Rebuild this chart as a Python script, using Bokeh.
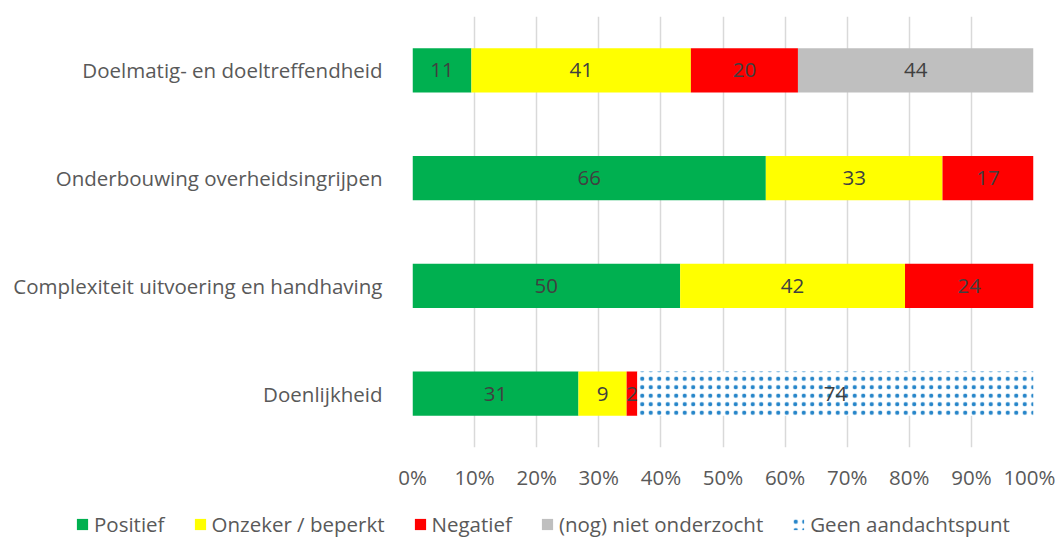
from bokeh.plotting import figure
from bokeh.models import ColumnDataSource, Legend, LegendItem, LabelSet, FixedTicker, FactorRange
from bokeh.layouts import column
from bokeh.core.properties import value
from bokeh.embed import file_html
from bokeh.resources import INLINE

# data
categories = ["Doelmatig- en doeltreffendheid",
              "Onderbouwing overheidsingrijpen",
              "Complexiteit uitvoering en handhaving",
              "Doenlijkheid"]
series_names = ["Positief", "Onzeker / beperkt", "Negatief",
                "(nog) niet onderzocht", "Geen aandachtspunt"]
positief = [11, 66, 50, 31]
onzeker = [41, 33, 42, 9]
negatief = [20, 17, 24, 2]
niet_onderzocht = [44, 0, 0, 0]
geen_aandacht = [0, 0, 0, 74]
x_ticks = [0, 10, 20, 30, 40, 50, 60, 70, 80, 90, 100]

colors = ["#00B050", "#FFFF00", "#FF0000", "#BFBFBF", "white"]
FONT = "Open Sans"
FS = "20.5px"
HATCH = dict(hatch_pattern=".", hatch_color="#0070C0", hatch_scale=8.5,
             hatch_weight=0.5, hatch_alpha=0.85)

series = [positief, onzeker, negatief, niet_onderzocht, geen_aandacht]
totals = [sum(v) for v in zip(*series)]

p = figure(width=1055, height=493, output_backend="svg", toolbar_location=None,
           y_range=FactorRange(*reversed(categories), range_padding=0),
           x_range=(0, 100))
p.frame_align = False
p.min_border_left = 412
p.min_border_right = 22
p.min_border_top = 16
p.min_border_bottom = 44
p.outline_line_color = None

p.xgrid.ticker = FixedTicker(ticks=x_ticks)
p.xgrid.grid_line_color = "#D9D9D9"
p.xgrid.grid_line_width = 1.5
p.ygrid.grid_line_color = None

p.xaxis.ticker = FixedTicker(ticks=x_ticks)
p.xaxis.major_label_overrides = {t: f"{t}%" for t in x_ticks}
p.xaxis.axis_line_color = None
p.xaxis.major_tick_line_color = None
p.xaxis.minor_tick_line_color = None
p.xaxis.major_label_standoff = 9
p.yaxis.axis_line_color = None
p.yaxis.major_tick_line_color = None
p.yaxis.major_label_standoff = 24
for ax in (p.xaxis[0], p.yaxis[0]):
    ax.major_label_text_font = FONT
    ax.major_label_text_font_size = FS
    ax.major_label_text_color = "#595959"

# legende in een eigen strook onder de grafiek
lg = figure(width=1055, height=47, output_backend="svg", toolbar_location=None,
            x_range=(0, 1), y_range=(0, 1))
lg.frame_align = False
lg.min_border_left = lg.min_border_right = 0
lg.min_border_top = lg.min_border_bottom = 0
lg.axis.visible = False
lg.grid.visible = False
lg.outline_line_color = None

left = [0.0] * len(categories)
items = []
for name, vals, col in zip(series_names, series, colors):
    pct = [v / t * 100 for v, t in zip(vals, totals)]
    right = [l + q for l, q in zip(left, pct)]
    src = ColumnDataSource(dict(cat=categories, left=left, right=right,
                                mid=[(l + r) / 2 for l, r in zip(left, right)],
                                lab=[str(v) if v else "" for v in vals]))
    style = HATCH if name == "Geen aandachtspunt" else {}
    p.hbar(y="cat", left="left", right="right", height=0.41, source=src,
           fill_color=col, line_color=None, **style)
    # onzichtbare balk buiten beeld, alleen voor het legendasymbool
    dummy = lg.hbar(y=[-5], left=[-5], right=[-4], height=0.5,
                    fill_color=col, line_color=None, **style)
    items.append(LegendItem(label=name, renderers=[dummy]))
    p.add_layout(LabelSet(x="mid", y="cat", text="lab", source=src,
                          text_align="center", text_baseline="middle",
                          text_font=value(FONT), text_font_size=FS,
                          text_color="#404040"))
    left = right

legend = Legend(items=items, orientation="horizontal", location=(75, 2),
                glyph_width=14, glyph_height=14, label_text_font=FONT,
                label_text_font_size=FS, label_text_color="#595959",
                spacing=28, label_standoff=5, padding=0, margin=0,
                border_line_color=None, background_fill_alpha=0)
lg.add_layout(legend, "center")

page = column(p, lg, spacing=0)
open("out.html", "w").write(file_html(page, INLINE))
